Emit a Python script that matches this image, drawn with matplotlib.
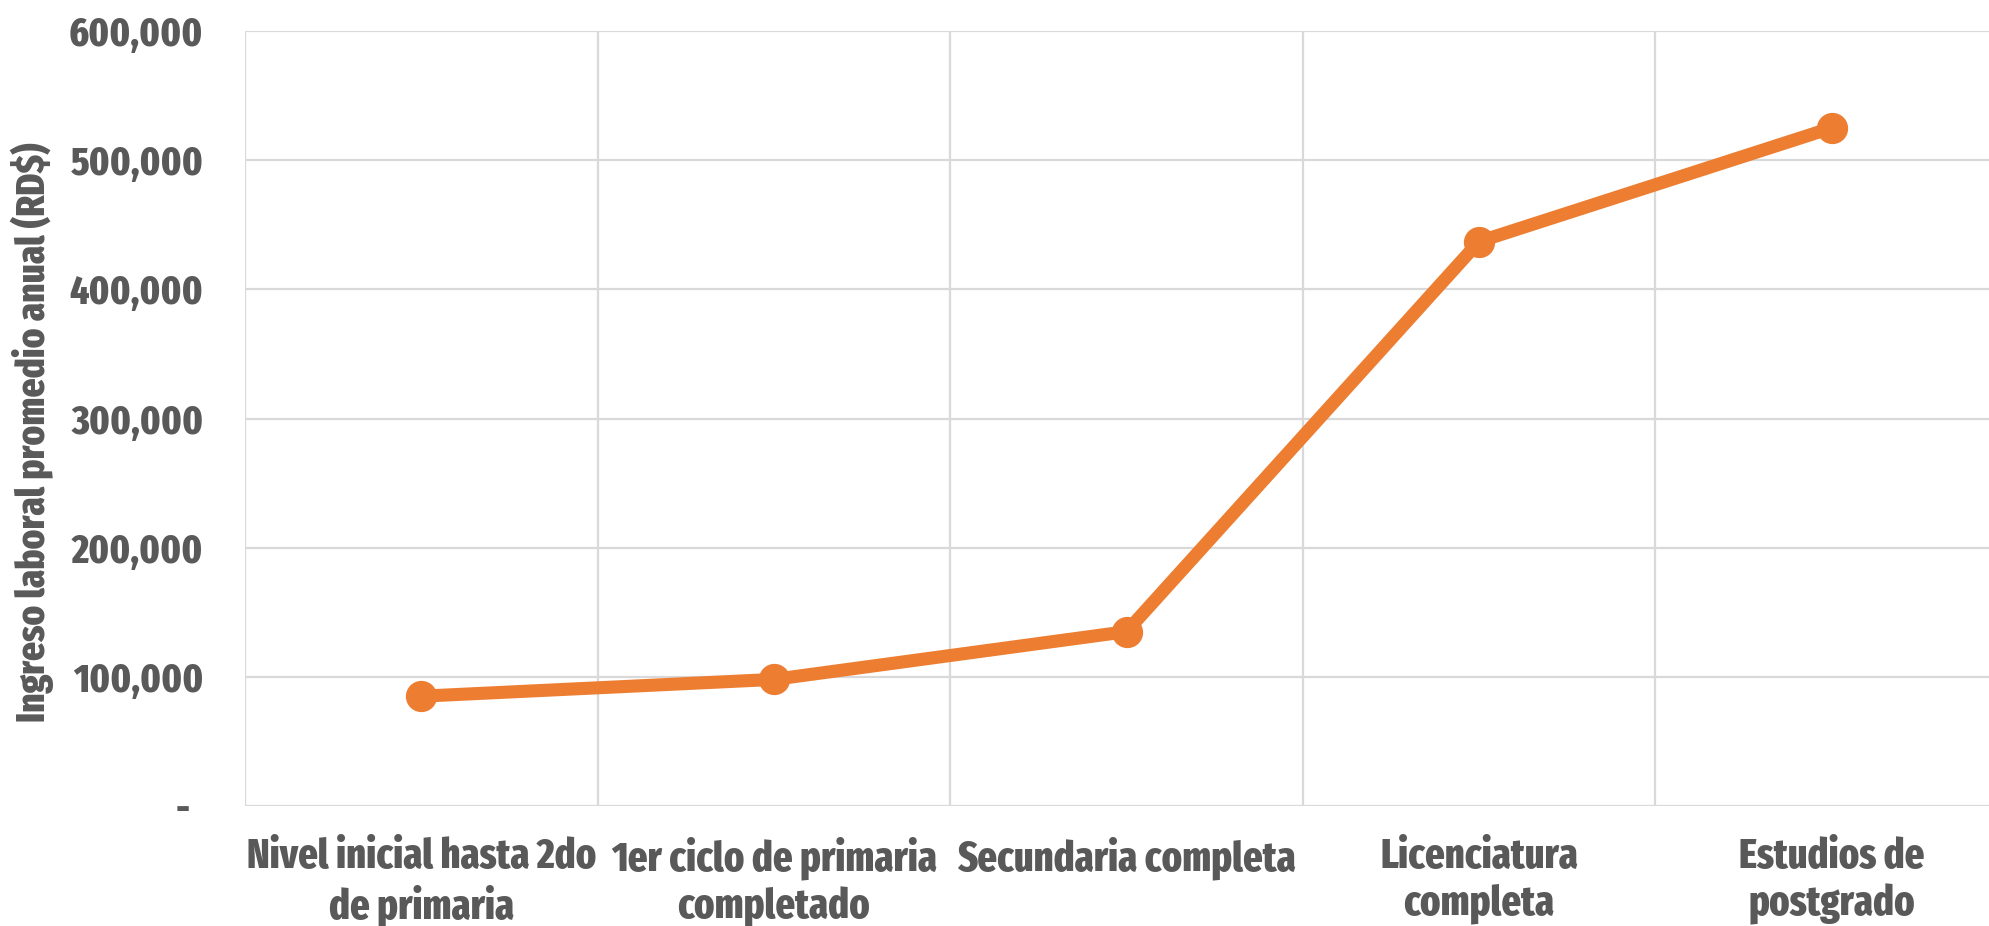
import matplotlib
matplotlib.use("Agg")
import matplotlib.pyplot as plt
import matplotlib.transforms as mtransforms
from matplotlib.ticker import FuncFormatter

categories = [
    "Nivel inicial hasta 2do\nde primaria",
    "1er ciclo de primaria\ncompletado",
    "Secundaria completa",
    "Licenciatura\ncompleta",
    "Estudios de\npostgrado",
]
ingreso = [85000, 98000, 135000, 437000, 525000]
y_ticks = [0, 100000, 200000, 300000, 400000, 500000, 600000]
y_label = "Ingreso laboral promedio anual (RD$)"

FONT = ["Fira Sans Extra Condensed", "DejaVu Sans"]
TXT = "#595959"
ORANGE = "#ED7D31"
GRID = "#D9D9D9"
WEIGHT = 800

plt.rcParams["font.family"] = FONT

fig = plt.figure(figsize=(19.9, 9.26), dpi=100)
W, H = 1990, 926
left, right, top, bottom = 245, 2008, 31, 806
ax = fig.add_axes([left / W, (H - bottom) / H, (right - left) / W, (bottom - top) / H])

x = list(range(len(categories)))
ax.plot(x, ingreso, color=ORANGE, lw=9.4, marker="o", ms=21.5, solid_capstyle="round", zorder=3, clip_on=False)

ax.set_xlim(-0.5, len(categories) - 0.5)
ax.set_ylim(y_ticks[0], y_ticks[-1])
for s in ax.spines.values():
    s.set_visible(False)

ax.set_yticks(y_ticks)
ax.yaxis.set_major_formatter(FuncFormatter(lambda v, p: "-" if v == 0 else f"{int(v):,}"))
ax.set_xticks([i - 0.5 for i in range(len(categories) + 1)], minor=False)
ax.set_xticklabels([])
ax.set_xticks(x, minor=True)
ax.set_xticklabels(categories, minor=True)

ax.grid(True, which="major", color=GRID, lw=1.6)
ax.tick_params(axis="both", which="both", length=0)
ax.tick_params(axis="y", pad=30, labelsize=29, labelcolor=TXT)
ax.tick_params(axis="x", which="minor", pad=22, labelsize=30, labelcolor=TXT)
for lab in ax.get_yticklabels():
    lab.set_fontweight(WEIGHT)
for lab in ax.get_xticklabels(minor=True):
    lab.set_fontweight(WEIGHT)
    lab.set_linespacing(1.2)

# accounting-style dash for zero sits slightly left
zero_lab = ax.get_yticklabels()[0]
zero_lab.set_transform(zero_lab.get_transform() + mtransforms.ScaledTranslation(-14 / 100, 0, fig.dpi_scale_trans))

fig.text(32 / W, 1 - 432 / H, y_label, rotation=90, ha="center", va="center",
         fontsize=29, fontweight=WEIGHT, color=TXT)

fig.savefig("out.png", dpi=100)
